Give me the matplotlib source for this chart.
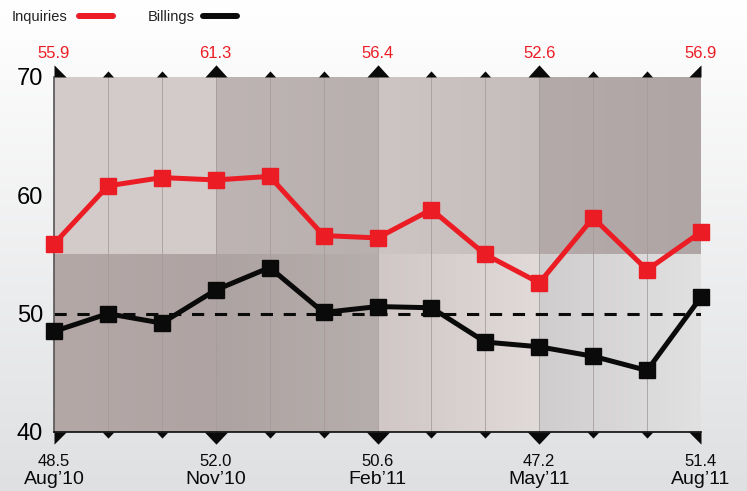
import numpy as np
import matplotlib
matplotlib.use("Agg")
import matplotlib.pyplot as plt
from matplotlib.colors import to_rgb

plt.rcParams['font.family'] = ['Liberation Sans Narrow', 'Liberation Sans', 'DejaVu Sans']

# data
months = ["Aug'10", "Sep'10", "Oct'10", "Nov'10", "Dec'10", "Jan'11", "Feb'11",
          "Mar'11", "Apr'11", "May'11", "Jun'11", "Jul'11", "Aug'11"]
inquiries = [55.9, 60.8, 61.5, 61.3, 61.6, 56.6, 56.4, 58.8, 55.0, 52.6, 58.1, 53.7, 56.9]
billings = [48.5, 50.0, 49.2, 52.0, 53.9, 50.1, 50.6, 50.5, 47.6, 47.2, 46.4, 45.2, 51.4]
quarter_idx = [0, 3, 6, 9, 12]
yticks = [40, 50, 60, 70]

RED = "#ec1c24"
BLACK = "#0a0a0a"

# background shades per quarter (left colour, right colour)
upper_shades = [("#d4cccb", "#d3cbc9"), ("#bdb4b3", "#b8b0af"),
                ("#cdc5c4", "#c5bdbc"), ("#b3aaa9", "#aea5a4")]
lower_shades = [("#b4a8a7", "#afa4a3"), ("#ada3a2", "#b6aeac"),
                ("#d0c7c6", "#e0dad9"), ("#cfcdce", "#e2e1e2")]

x = np.arange(len(months))

fig = plt.figure(figsize=(7.47, 4.91), dpi=100)

# figure background gradient
bg = fig.add_axes([0, 0, 1, 1], zorder=-10)
grad = np.linspace(0, 1, 256)[:, None]
top_c, bot_c = np.array(to_rgb("#ffffff")), np.array(to_rgb("#dfe0e2"))
img = top_c[None, None, :] * (1 - grad[:, :, None]) + bot_c[None, None, :] * grad[:, :, None]
bg.imshow(img, aspect='auto', extent=(0, 1, 0, 1))
bg.set_axis_off()

ax = fig.add_axes([54 / 747, 1 - 432 / 491, (701 - 54) / 747, (432 - 77) / 491])

def band(x0, x1, y0, y1, c0, c1):
    t = np.linspace(0, 1, 64)[None, :, None]
    a, b = np.array(to_rgb(c0)), np.array(to_rgb(c1))
    im = a[None, None, :] * (1 - t) + b[None, None, :] * t
    ax.imshow(im, aspect='auto', extent=(x0, x1, y0, y1), zorder=0, interpolation='bilinear')

for q in range(4):
    x0, x1 = quarter_idx[q], quarter_idx[q + 1]
    band(x0, x1, 55, 70, *upper_shades[q])
    band(x0, x1, 40, 55, *lower_shades[q])
ax.set_xlim(0, 12)
ax.set_ylim(40, 70)

for xi in x[1:-1]:
    ax.axvline(xi, color="#a39a99", lw=0.7, alpha=0.8, zorder=1)

ax.plot([0, 12], [50, 50], color=BLACK, lw=2.2, dashes=(4, 3.5), zorder=2)
ax.plot(x, inquiries, color=RED, lw=3.6, marker='s', ms=12, zorder=3, clip_on=False)
ax.plot(x, billings, color=BLACK, lw=3.6, marker='s', ms=12, zorder=3, clip_on=False)

# spines and ticks
for s in ['top', 'right']:
    ax.spines[s].set_visible(False)
ax.spines['left'].set_color('#555555')
ax.spines['left'].set_linewidth(1.2)
ax.spines['bottom'].set_color(BLACK)
ax.spines['bottom'].set_linewidth(1.2)
ax.set_xticks([])
ax.set_yticks(yticks)
ax.tick_params(axis='y', length=0, pad=8, labelsize=17)

# triangle markers above and below
up_tri = [(-1, 0), (1, 0), (0, 1.1), (-1, 0)]
down_tri = [(-1, 0), (1, 0), (0, -1.05), (-1, 0)]
for xi in x:
    big = xi in quarter_idx
    if xi == 0:
        mt, mb, ms = [(0, 0), (0, 1), (1, 0), (0, 0)], [(0, 0), (0, -1), (1, 0), (0, 0)], 17.5
    elif xi == 12:
        mt, mb, ms = [(0, 0), (0, 1), (-1, 0), (0, 0)], [(0, 0), (0, -1), (-1, 0), (0, 0)], 17.5
    else:
        mt, mb, ms = up_tri, down_tri, 17.5 if big else 8.8
    ax.plot(xi, 70, marker=mt, ms=ms, color=BLACK, mew=0, clip_on=False, zorder=5)
    ax.plot(xi, 40, marker=mb, ms=ms, color=BLACK, mew=0, clip_on=False, zorder=5)

for qi in quarter_idx:
    ax.annotate(f"{inquiries[qi]:.1f}", (qi, 70), xytext=(0, 17), textcoords='offset points',
                ha='center', va='center', color=RED, fontsize=12, annotation_clip=False)
    ax.annotate(f"{billings[qi]:.1f}", (qi, 40), xytext=(0, -21), textcoords='offset points',
                ha='center', va='center', color=BLACK, fontsize=12, annotation_clip=False)
    ax.annotate(months[qi].replace("'", "\u2019"), (qi, 40), xytext=(0, -34.5), textcoords='offset points',
                ha='center', va='center', color=BLACK, fontsize=14, annotation_clip=False)

# legend
fig.text(12 / 747, 1 - 17 / 491, "Inquiries", fontsize=10.5, va='center', ha='left', color='#222222')
fig.text(148 / 747, 1 - 17 / 491, "Billings", fontsize=10.5, va='center', ha='left', color='#222222')
fig.add_artist(plt.Line2D([79 / 747, 113 / 747], [1 - 16 / 491] * 2, color=RED, lw=4.3,
                          solid_capstyle='round'))
fig.add_artist(plt.Line2D([203 / 747, 237 / 747], [1 - 16 / 491] * 2, color=BLACK, lw=4.3,
                          solid_capstyle='round'))

fig.savefig("out.png", dpi=100)
